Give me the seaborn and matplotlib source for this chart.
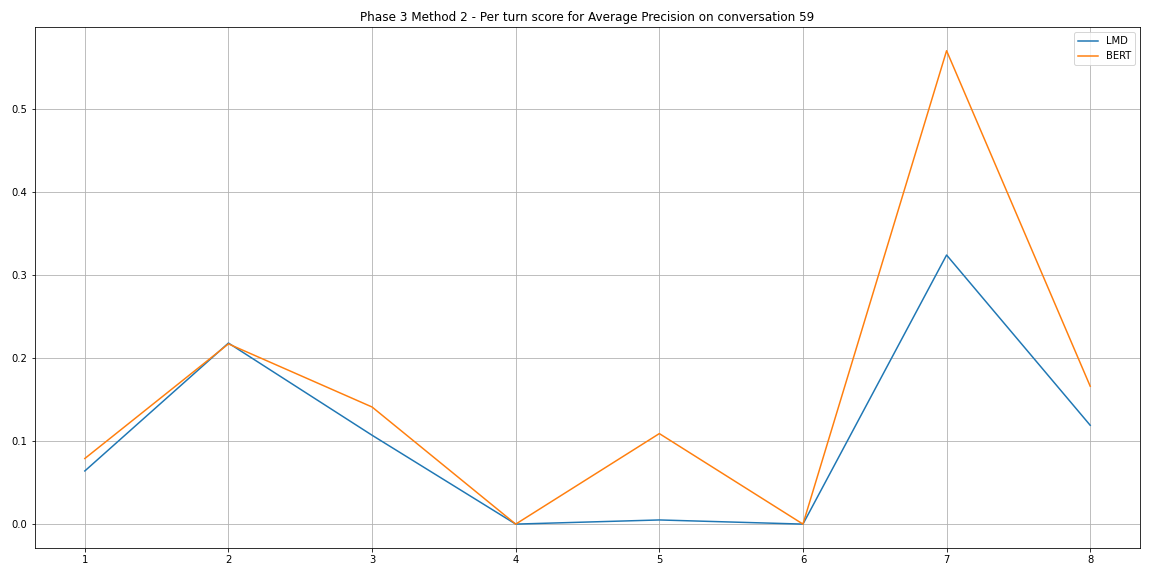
import matplotlib
matplotlib.use("Agg")
import matplotlib.pyplot as plt
import seaborn as sns
import pandas as pd

# per turn scores
turns = [1, 2, 3, 4, 5, 6, 7, 8]
lmd = [0.064, 0.218, 0.107, 0.0, 0.005, 0.0, 0.324, 0.119]
bert = [0.079, 0.217, 0.141, 0.0, 0.109, 0.0, 0.570, 0.166]

df = pd.DataFrame({
    "turn": turns * 2,
    "score": lmd + bert,
    "model": ["LMD"] * len(turns) + ["BERT"] * len(turns),
})

plt.rcParams["font.family"] = ["DejaVu Sans"]
fig, ax = plt.subplots(figsize=(16, 8), dpi=72)
sns.lineplot(data=df, x="turn", y="score", hue="model",
             palette=["#1f77b4", "#ff7f0e"], ax=ax)

ax.set_title("Phase 3 Method 2 - Per turn score for Average Precision on conversation 59")
ax.set_xlabel("")
ax.set_ylabel("")
ax.grid(True, color="#b0b0b0", linewidth=0.8)
ax.legend(title=None, loc="upper right")
plt.subplots_adjust(left=0.030, right=0.990, top=0.953, bottom=0.049)
plt.savefig("out.png", dpi=72)
